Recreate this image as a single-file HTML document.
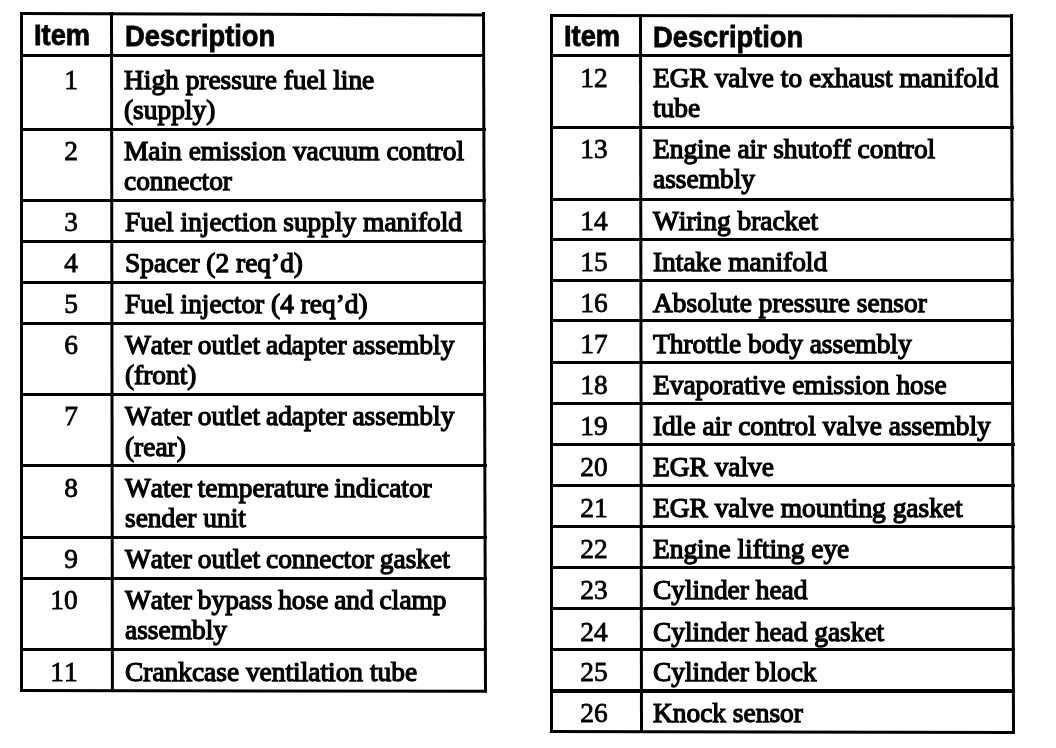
<!DOCTYPE html>
<html><head><meta charset="utf-8"><title>Item Description</title>
<style>
html,body{margin:0;padding:0;background:#fff;}
body{width:1056px;height:748px;position:relative;overflow:hidden;font-family:"Liberation Serif",serif;color:#000;}
.l{position:absolute;background:#000;}
.t{-webkit-text-stroke:1.25px #000;font-kerning:none;}
.n{-webkit-text-stroke:0.8px #000;font-kerning:none;}
.h{-webkit-text-stroke:0.8px #000;}
.t{position:absolute;white-space:nowrap;font-size:27.5px;line-height:30px;height:30px;transform:scaleX(0.996);transform-origin:0 0;}
.n{position:absolute;white-space:nowrap;font-size:27.5px;line-height:30px;height:30px;text-align:center;width:80px;transform:scaleX(0.996);transform-origin:50% 0;}
.h{position:absolute;white-space:nowrap;font-family:"Liberation Sans",sans-serif;font-weight:bold;font-size:30px;line-height:30px;height:30px;transform:scaleX(0.91);transform-origin:0 0;}
</style></head><body>
<!-- left table -->
<div class="l" style="left:20px;top:11.8px;width:465.2px;height:3.2px;transform-origin:0 0;transform:skewY(0.17deg)"></div>
<div class="l" style="left:20px;top:53.5px;width:465.32px;height:3.2px"></div>
<div class="l" style="left:20px;top:127.8px;width:465.54px;height:3.2px"></div>
<div class="l" style="left:20px;top:198.5px;width:465.75px;height:3.2px"></div>
<div class="l" style="left:20px;top:239.7px;width:465.87px;height:3.2px"></div>
<div class="l" style="left:20px;top:280.6px;width:465.99px;height:3.2px"></div>
<div class="l" style="left:20px;top:322px;width:466.12px;height:3.2px"></div>
<div class="l" style="left:20px;top:393px;width:466.33px;height:3.2px"></div>
<div class="l" style="left:20px;top:464.3px;width:466.54px;height:3.2px"></div>
<div class="l" style="left:20px;top:535.8px;width:466.75px;height:3.2px"></div>
<div class="l" style="left:20px;top:576.7px;width:466.87px;height:3.2px"></div>
<div class="l" style="left:20px;top:648px;width:467.08px;height:3.2px"></div>
<div class="l" style="left:20px;top:688.6px;width:467.2px;height:3.2px;transform-origin:0 0;transform:skewY(0.1deg)"></div>
<div class="l" style="left:20px;top:11.8px;width:3.2px;height:680px"></div>
<div class="l" style="left:110.4px;top:11.8px;width:3.3px;height:680px;transform-origin:0 0;transform:skewX(0.076deg)"></div>
<div class="l" style="left:482px;top:11.8px;width:3.2px;height:680px;transform-origin:0 0;transform:skewX(0.169deg)"></div>
<div class="h" style="left:34px;top:19.7px">Item</div>
<div class="h" style="left:125px;top:20.7px">Description</div>
<div class="n" style="left:31px;top:64.65px">1</div>
<div class="t" style="left:124px;top:64.65px">High pressure fuel line</div>
<div class="t" style="left:124px;top:95.45px">(supply)</div>
<div class="n" style="left:31px;top:136.35px">2</div>
<div class="t" style="left:124px;top:136.35px">Main emission vacuum control</div>
<div class="t" style="left:124px;top:166.15px">connector</div>
<div class="n" style="left:31px;top:207.15px">3</div>
<div class="t" style="left:124.5px;top:207.15px">Fuel injection supply manifold</div>
<div class="n" style="left:31px;top:248.05px">4</div>
<div class="t" style="left:124.5px;top:248.05px">Spacer (2 req’d)</div>
<div class="n" style="left:31px;top:289.25px">5</div>
<div class="t" style="left:124.5px;top:289.25px">Fuel injector (4 req’d)</div>
<div class="n" style="left:31px;top:330.15px">6</div>
<div class="t" style="left:125px;top:330.15px;word-spacing:-1px">Water outlet adapter assembly</div>
<div class="t" style="left:125px;top:360.45px">(front)</div>
<div class="n" style="left:31px;top:401.15px">7</div>
<div class="t" style="left:125px;top:401.15px;word-spacing:-1px">Water outlet adapter assembly</div>
<div class="t" style="left:125px;top:431.95px">(rear)</div>
<div class="n" style="left:31px;top:473.05px">8</div>
<div class="t" style="left:125px;top:473.05px;word-spacing:-1px">Water temperature indicator</div>
<div class="t" style="left:125px;top:502.55px">sender unit</div>
<div class="n" style="left:31px;top:544.25px">9</div>
<div class="t" style="left:125px;top:544.25px;word-spacing:-1px">Water outlet connector gasket</div>
<div class="n" style="left:24px;top:585.15px">10</div>
<div class="t" style="left:125px;top:585.15px;word-spacing:-1px">Water bypass hose and clamp</div>
<div class="t" style="left:125px;top:614.85px">assembly</div>
<div class="n" style="left:24px;top:656.65px">11</div>
<div class="t" style="left:125px;top:656.65px">Crankcase ventilation tube</div>
<!-- right table -->
<div class="l" style="left:550px;top:14px;width:463.3px;height:3.2px;transform-origin:0 0;transform:skewY(0.05deg)"></div>
<div class="l" style="left:550px;top:54.2px;width:463.41px;height:3.2px"></div>
<div class="l" style="left:550px;top:125.7px;width:463.61px;height:3.2px"></div>
<div class="l" style="left:550px;top:197.5px;width:463.81px;height:3.2px"></div>
<div class="l" style="left:550px;top:237.7px;width:463.93px;height:3.2px"></div>
<div class="l" style="left:550px;top:279px;width:464.04px;height:3.2px"></div>
<div class="l" style="left:550px;top:319.3px;width:464.15px;height:3.2px"></div>
<div class="l" style="left:550px;top:361.2px;width:464.27px;height:3.2px"></div>
<div class="l" style="left:550px;top:401.6px;width:464.38px;height:3.2px"></div>
<div class="l" style="left:550px;top:443.2px;width:464.5px;height:3.2px"></div>
<div class="l" style="left:550px;top:483.7px;width:464.61px;height:3.2px"></div>
<div class="l" style="left:550px;top:525.2px;width:464.73px;height:3.2px"></div>
<div class="l" style="left:550px;top:566.3px;width:464.84px;height:3.2px"></div>
<div class="l" style="left:550px;top:607.2px;width:464.96px;height:3.2px"></div>
<div class="l" style="left:550px;top:648.3px;width:465.07px;height:3.2px"></div>
<div class="l" style="left:550px;top:689.4px;width:465.19px;height:3.2px"></div>
<div class="l" style="left:550px;top:729.8px;width:465.3px;height:3.2px;transform-origin:0 0;transform:skewY(0.12deg)"></div>
<div class="l" style="left:550px;top:14px;width:3.2px;height:719px"></div>
<div class="l" style="left:638.6px;top:14px;width:3.3px;height:719px;transform-origin:0 0;transform:skewX(0.080deg)"></div>
<div class="l" style="left:1010.1px;top:14px;width:3.2px;height:719px;transform-origin:0 0;transform:skewX(0.160deg)"></div>
<div class="h" style="left:563.8px;top:20.7px">Item</div>
<div class="h" style="left:653px;top:21.7px">Description</div>
<div class="n" style="left:553.8px;top:63.05px">12</div>
<div class="t" style="left:653px;top:63.05px">EGR valve to exhaust manifold</div>
<div class="t" style="left:653px;top:92.65px">tube</div>
<div class="n" style="left:553.8px;top:134.45px">13</div>
<div class="t" style="left:653px;top:134.45px">Engine air shutoff control</div>
<div class="t" style="left:653px;top:163.95px">assembly</div>
<div class="n" style="left:553.8px;top:205.55px">14</div>
<div class="t" style="left:653px;top:205.55px">Wiring bracket</div>
<div class="n" style="left:553.8px;top:246.55px">15</div>
<div class="t" style="left:653px;top:246.55px">Intake manifold</div>
<div class="n" style="left:553.8px;top:287.95px">16</div>
<div class="t" style="left:653px;top:287.95px">Absolute pressure sensor</div>
<div class="n" style="left:553.8px;top:328.75px">17</div>
<div class="t" style="left:653px;top:328.75px">Throttle body assembly</div>
<div class="n" style="left:553.8px;top:369.95px">18</div>
<div class="t" style="left:653px;top:369.95px">Evaporative emission hose</div>
<div class="n" style="left:553.8px;top:411.05px">19</div>
<div class="t" style="left:653px;top:411.05px">Idle air control valve assembly</div>
<div class="n" style="left:553.8px;top:451.95px">20</div>
<div class="t" style="left:653px;top:451.95px">EGR valve</div>
<div class="n" style="left:553.8px;top:492.75px">21</div>
<div class="t" style="left:653px;top:492.75px">EGR valve mounting gasket</div>
<div class="n" style="left:553.8px;top:534.25px">22</div>
<div class="t" style="left:653px;top:534.25px">Engine lifting eye</div>
<div class="n" style="left:553.8px;top:575.35px">23</div>
<div class="t" style="left:653px;top:575.35px">Cylinder head</div>
<div class="n" style="left:553.8px;top:616.55px">24</div>
<div class="t" style="left:653px;top:616.55px">Cylinder head gasket</div>
<div class="n" style="left:553.8px;top:657.45px">25</div>
<div class="t" style="left:653px;top:657.45px">Cylinder block</div>
<div class="n" style="left:553.8px;top:698.45px">26</div>
<div class="t" style="left:653px;top:698.45px">Knock sensor</div>
</body></html>
